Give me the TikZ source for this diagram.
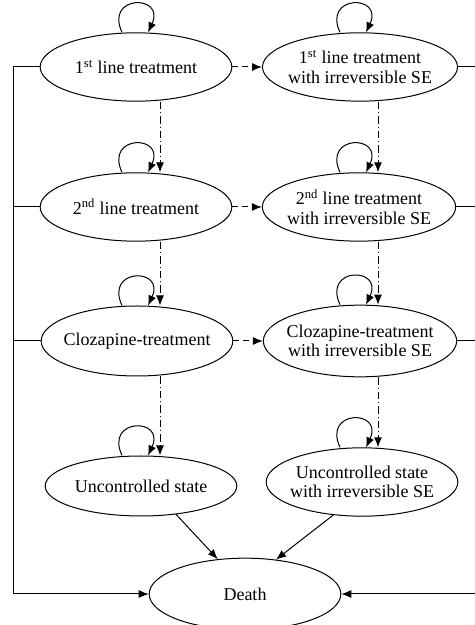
\documentclass[tikz,border=0pt]{standalone}
\usepackage{fontspec}
\setmainfont{Liberation Serif}
\usetikzlibrary{arrows.meta,calc,shapes.geometric}
\tikzset{
  node-state/.style={draw,ellipse,inner xsep=-6pt,inner ysep=0pt,line width=0.6pt,
    minimum width=115pt,minimum height=41pt,align=center,
    font=\fontsize{10.8}{11.8}\selectfont},
  arrow/.style={-{Latex[length=6pt,width=4.8pt]},line width=0.6pt},
  arrow-se/.style={arrow,dash pattern=on 3.5pt off 2.5pt},
  arrow-next/.style={arrow,dash pattern=on 4.5pt off 1.8pt on 0.6pt off 1.8pt},
  link/.style={line width=0.6pt},
}

\begin{document}
\begin{tikzpicture}[x=0.6pt,y=0.6pt]
  \useasboundingbox (0,0) rectangle (474,625);
  % columns of the connectors
  \coordinate (lft) at (13,0);
  \coordinate (rgt) at (478,0);
  \coordinate (xL) at (160,0);
  \coordinate (xR) at (378,0);

  % states
  \node[node-state] (t1) at (136,558) {1\textsuperscript{st} line treatment};
  \node[node-state,minimum width=117pt] (t1se) at (360,558) {1\textsuperscript{st} line treatment\\with irreversible SE};
  \node[node-state] (t2) at (136,418) {2\textsuperscript{nd} line treatment};
  \node[node-state,minimum width=116pt] (t2se) at (359,418) {2\textsuperscript{nd} line treatment\\with irreversible SE};
  \node[node-state,minimum height=42pt] (cl) at (137,284) {Clozapine-treatment};
  \node[node-state,minimum width=116pt,minimum height=43pt] (clse) at (360,284) {Clozapine-treatment\\with irreversible SE};
  \node[node-state,minimum height=36pt] (un) at (141,139) {Uncontrolled state};
  \node[node-state] (unse) at (362,143) {Uncontrolled state\\with irreversible SE};
  \node[node-state,minimum height=43pt] (death) at (245,31) {Death};

  % staying in the same state
  \draw[arrow] ($(t1.north -| xL)+(-38,0)$) .. controls +(115:42) and +(65:42) .. ($(t1.north -| xL)+(-12,0)$);
  \draw[arrow] ($(t2.north -| xL)+(-38,0)$) .. controls +(115:42) and +(65:42) .. ($(t2.north -| xL)+(-12,0)$);
  \draw[arrow] ($(cl.north -| xL)+(-38,0)$) .. controls +(115:42) and +(65:42) .. ($(cl.north -| xL)+(-12,0)$);
  \draw[arrow] ($(un.north -| xL)+(-38,0)$) .. controls +(115:42) and +(65:42) .. ($(un.north -| xL)+(-12,0)$);
  \draw[arrow] ($(t1se.north -| xR)+(-38,0)$) .. controls +(115:42) and +(65:42) .. ($(t1se.north -| xR)+(-12,0)$);
  \draw[arrow] ($(t2se.north -| xR)+(-38,0)$) .. controls +(115:42) and +(65:42) .. ($(t2se.north -| xR)+(-12,0)$);
  \draw[arrow] ($(clse.north -| xR)+(-38,0)$) .. controls +(115:42) and +(65:42) .. ($(clse.north -| xR)+(-12,0)$);
  \draw[arrow] ($(unse.north -| xR)+(-38,0)$) .. controls +(115:42) and +(65:42) .. ($(unse.north -| xR)+(-12,0)$);

  % irreversible side effects
  \draw[arrow-se] (t1) -- (t1se);
  \draw[arrow-se] (t2) -- (t2se);
  \draw[arrow-se] (cl) -- (clse);

  % next line of treatment
  \draw[arrow-next] (t1.south -| xL) -- (t2.north -| xL);
  \draw[arrow-next] (t2.south -| xL) -- (cl.north -| xL);
  \draw[arrow-next] (cl.south -| xL) -- (un.north -| xL);
  \draw[arrow-next] (t1se.south -| xR) -- (t2se.north -| xR);
  \draw[arrow-next] (t2se.south -| xR) -- (clse.north -| xR);
  \draw[arrow-next] (clse.south -| xR) -- (unse.north -| xR);

  % death
  \draw[link] (t2.west) -- (t2.west -| lft);
  \draw[link] (cl.west) -- (cl.west -| lft);
  \draw[arrow] (t1.west) -- (t1.west -| lft) |- (death.west);
  \draw[link] (t2se.east) -- (t2se.east -| rgt);
  \draw[link] (clse.east) -- (clse.east -| rgt);
  \draw[arrow] (t1se.east) -- (t1se.east -| rgt) |- (death.east);
  \draw[arrow] (un.-39) -- (death.128);
  \draw[arrow] (unse.229) -- (death.48);
\end{tikzpicture}
\end{document}
